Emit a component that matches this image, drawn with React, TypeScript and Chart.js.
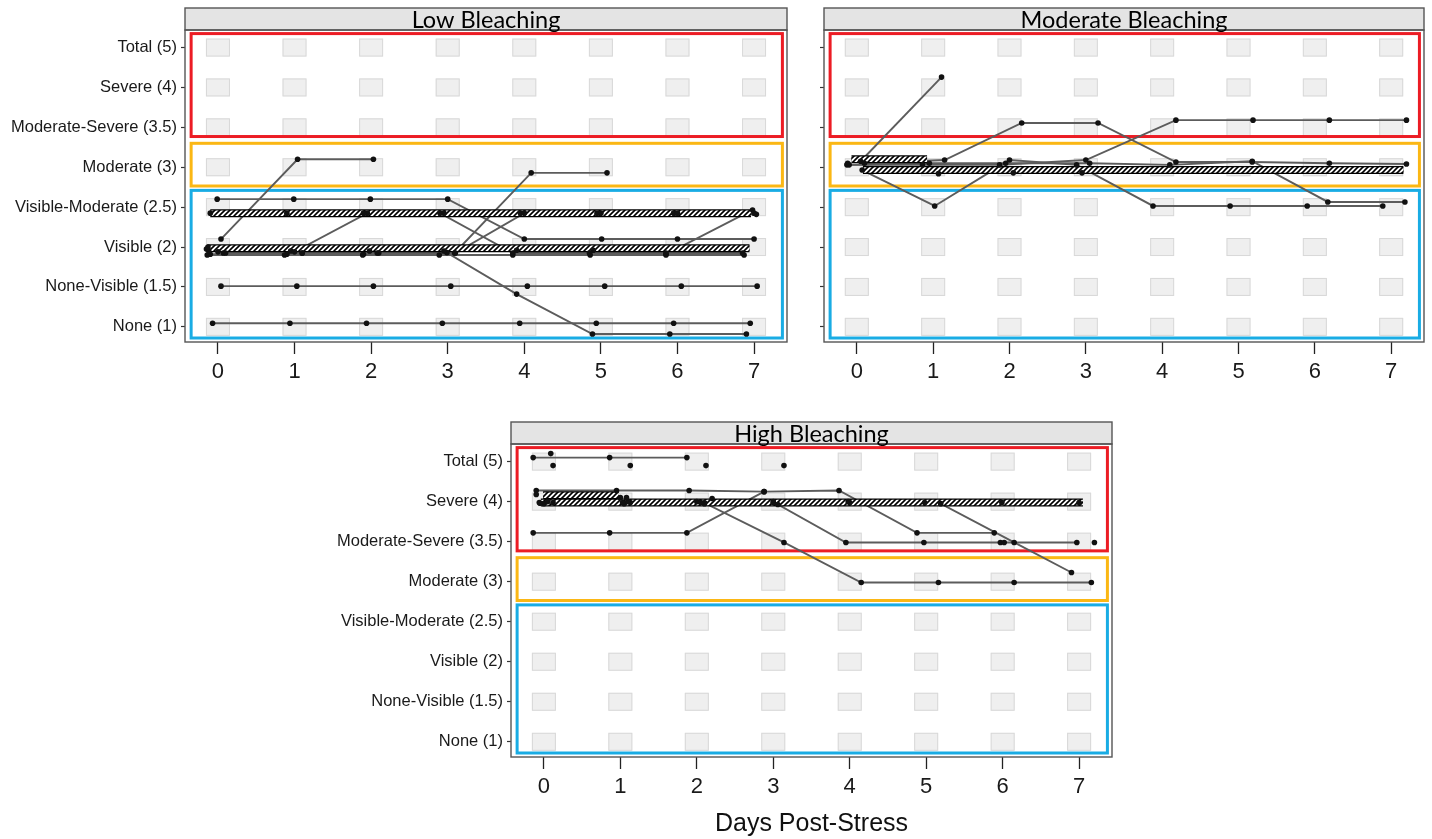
import React, { useEffect, useRef } from 'react';
import { Chart, registerables } from 'chart.js';
Chart.register(...registerables);

// ---------- data ----------
const dayTicks = [0, 1, 2, 3, 4, 5, 6, 7];
const scoreLevels = [1, 2, 3, 4, 5, 6, 7, 8];
const scoreLabels = [
  'None (1)',
  'None-Visible (1.5)',
  'Visible (2)',
  'Visible-Moderate (2.5)',
  'Moderate (3)',
  'Moderate-Severe (3.5)',
  'Severe (4)',
  'Total (5)',
];
const panelTitles = ['Low Bleaching', 'Moderate Bleaching', 'High Bleaching'];
const xAxisTitle = 'Days Post-Stress';

// severity groups (score ranges boxed): severe group, moderate, low
const zoneRanges = [
  [5.77, 8.35],
  [4.53, 5.6],
  [0.72, 4.42],
];
const zoneDays = [-0.35, 7.37];

// each coral: [day (jittered), score level (jittered)]
const lowCorals = [
  [[-0.07, 1.09], [0.94, 1.09], [1.94, 1.09], [2.93, 1.09], [3.94, 1.09], [4.94, 1.09], [5.95, 1.09], [6.95, 1.09]],
  [[0.04, 2.02], [1.03, 2.02], [2.03, 2.02], [3.04, 2.02], [4.04, 2.02], [5.05, 2.02], [6.05, 2.02], [7.04, 2.02]],
  [[-0.01, 4.2], [0.99, 4.2], [1.99, 4.2], [3.0, 4.2], [4.0, 3.2], [5.01, 3.2], [6.0, 3.2], [7.0, 3.2]],
  [[0.04, 3.2], [1.04, 5.2], [2.03, 5.2]],
  [[0.07, 2.85], [1.1, 2.85], [2.08, 2.85], [3.09, 2.85], [4.09, 4.86], [5.08, 4.86]],
  [[-0.1, 2.82], [0.9, 2.82], [1.9, 2.82], [2.99, 2.86], [3.9, 1.82], [4.89, 0.82], [5.9, 0.82], [6.9, 0.82]],
  [[-0.14, 2.8], [0.87, 2.8], [1.89, 2.8], [2.89, 2.8], [3.85, 2.8], [4.86, 2.8], [5.85, 2.8], [6.87, 2.8]],
  [[-0.12, 2.9], [0.95, 2.9], [1.98, 2.9], [2.95, 2.9], [3.9, 2.92], [4.9, 2.92], [5.85, 2.82], [6.98, 3.93]],
  [[0.0, 2.88], [1.0, 2.88], [1.95, 3.85], [2.95, 3.85], [3.95, 3.85], [4.95, 3.85], [5.95, 3.85], [7.03, 3.82]],
  [[-0.1, 3.85], [0.9, 3.85], [1.9, 3.85], [2.9, 3.85], [3.85, 2.85], [4.85, 2.85], [5.85, 2.85], [6.85, 2.85]],
  [[0.1, 2.85], [1.1, 2.85], [2.1, 2.85], [3.1, 2.85], [4.0, 3.85], [5.0, 3.85], [6.0, 3.85], [7.0, 3.85]],
];
// hatched bars: [start day, end day, score level]
const lowHatch = [
  [-0.1, 6.96, 3.85],
  [-0.14, 6.94, 2.97],
];
const lowLoose = [[-0.15, 2.95], [-0.13, 3.0]];

const modCorals = [
  [[0.05, 5.15], [1.11, 7.26]],
  [[0.1, 5.1], [1.15, 5.18], [2.16, 6.11], [3.16, 6.11], [4.18, 5.13], [5.18, 5.13], [6.19, 5.1], [7.2, 5.08]],
  [[-0.13, 5.06], [0.86, 5.06], [1.87, 5.06], [3.0, 5.18], [4.18, 6.18], [5.19, 6.18], [6.19, 6.18], [7.2, 6.18]],
  [[0.07, 4.93], [1.02, 4.03], [2.0, 5.18], [2.88, 5.06], [3.88, 4.03], [4.89, 4.03], [5.9, 4.03], [6.89, 4.03]],
  [[-0.1, 5.06], [0.95, 5.1], [1.95, 5.1], [3.05, 5.1], [4.1, 5.06], [5.18, 5.15], [6.17, 4.13], [7.18, 4.13]],
];
const modHatch = [
  [-0.07, 0.92, 5.2],
  [0.08, 7.16, 4.93],
];
const modLoose = [[-0.12, 5.1], [1.07, 4.84], [2.05, 4.86], [2.95, 4.86]];

const highCorals = [
  [[-0.14, 8.1], [0.86, 8.1], [1.87, 8.1]],
  [[-0.1, 7.28], [0.95, 7.28], [1.9, 7.28], [2.88, 7.25], [3.86, 7.28], [4.88, 6.22], [5.89, 6.22]],
  [[-0.14, 6.22], [0.86, 6.22], [1.87, 6.22], [2.88, 7.25]],
  [[0.0, 6.95], [1.05, 6.95], [2.1, 6.95], [3.06, 6.93], [3.95, 5.98], [4.97, 5.98], [5.97, 5.98], [6.97, 5.98]],
  [[0.12, 6.98], [1.13, 6.98], [2.1, 6.97], [3.14, 5.98], [4.15, 4.98], [5.16, 4.98], [6.15, 4.98], [7.16, 4.98]],
  [[0.05, 7.0], [1.1, 7.0], [2.0, 7.0], [3.0, 7.0], [3.98, 7.0], [5.19, 6.95], [6.15, 5.98], [6.9, 5.23]],
  [[-0.06, 6.98], [1.03, 6.98], [2.05, 6.98], [3.0, 6.98], [4.0, 6.98], [4.98, 6.98], [5.99, 6.98], [7.0, 6.98]],
];
const highHatch = [
  [-0.01, 0.98, 7.16],
  [-0.04, 7.05, 6.98],
];
const highLoose = [
  [0.09, 8.2], [0.12, 7.9], [1.13, 7.9], [2.12, 7.9], [3.14, 7.9],
  [-0.1, 7.18], [-0.05, 6.96], [1.0, 7.1], [1.08, 7.1], [2.2, 7.08], [7.2, 5.98], [6.02, 5.98],
];

// ---------- styles / geometry ----------
const DAY_MIN = -0.43;
const DAY_MAX = 7.43;
const SCORE_MIN = 0.62;
const SCORE_MAX = 8.44;
const ZONE_COLORS = ['#ec1c24', '#fbb714', '#19ace4'];
const SANS = "'Liberation Sans', Arial, Helvetica, sans-serif";

const GEOMS = [
  { left: 0, top: 0, w: 800, h: 395, l: 185, r: 787, t: 30, b: 342 },
  { left: 800, top: 0, w: 632, h: 395, l: 824, r: 1424, t: 30, b: 342 },
  { left: 300, top: 410, w: 820, h: 400, l: 511, r: 1112, t: 444, b: 757 },
];

const bgPlugin = {
  id: 'panelBg',
  beforeDatasetsDraw(chart: any) {
    const { ctx, scales } = chart;
    const x = scales.x;
    const y = scales.y;
    ctx.save();
    ctx.lineWidth = 1;
    for (const d of dayTicks) {
      for (const s of scoreLevels) {
        const px = x.getPixelForValue(d);
        const py = y.getPixelForValue(s);
        ctx.fillStyle = '#efefef';
        ctx.fillRect(px - 12, py - 9, 24, 18);
        ctx.strokeStyle = '#d8d8d8';
        ctx.strokeRect(px - 12 + 0.5, py - 9 + 0.5, 23, 17);
      }
    }
    ctx.lineWidth = 3;
    zoneRanges.forEach((rg, i) => {
      const x0 = x.getPixelForValue(zoneDays[0]);
      const x1 = x.getPixelForValue(zoneDays[1]);
      const y0 = y.getPixelForValue(rg[1]);
      const y1 = y.getPixelForValue(rg[0]);
      ctx.strokeStyle = ZONE_COLORS[i];
      ctx.strokeRect(x0, y0, x1 - x0, y1 - y0);
    });
    ctx.restore();
  },
};

const framePlugin = {
  id: 'panelFrame',
  afterDraw(chart: any, _args: any, opts: any) {
    const { ctx, chartArea } = chart;
    const { left, right, top, bottom } = chartArea;
    ctx.save();
    ctx.fillStyle = '#e4e4e4';
    ctx.fillRect(left, top - 22, right - left, 22);
    ctx.strokeStyle = '#555';
    ctx.lineWidth = 1.4;
    ctx.strokeRect(left, top - 22, right - left, 22);
    ctx.strokeRect(left, top, right - left, bottom - top);
    ctx.fillStyle = '#000';
    ctx.font = "23.5px Lato, 'Open Sans', sans-serif";
    ctx.textAlign = 'center';
    ctx.textBaseline = 'alphabetic';
    ctx.fillText(opts.title || '', (left + right) / 2, top - 2);
    ctx.restore();
  },
};

function makeHatch(ctx: CanvasRenderingContext2D): any {
  const c = document.createElement('canvas');
  c.width = 5;
  c.height = 5;
  const g = c.getContext('2d')!;
  g.fillStyle = '#fff';
  g.fillRect(0, 0, 5, 5);
  g.strokeStyle = '#000';
  g.lineWidth = 1.6;
  g.beginPath();
  g.moveTo(-1, 6);
  g.lineTo(6, -1);
  g.moveTo(-1, 1);
  g.lineTo(1, -1);
  g.moveTo(4, 6);
  g.lineTo(6, 4);
  g.stroke();
  return ctx.createPattern(c, 'repeat');
}

function buildConfig(
  corals: number[][][],
  hatch: number[][],
  loose: number[][],
  title: string,
  showLabels: boolean,
  geom: any,
  pattern: any
): any {
  const toPts = (arr: number[][]) => arr.map(([x, y]) => ({ x, y }));
  const lines = corals.map((c) => ({
    data: toPts(c),
    showLine: true,
    borderColor: '#5c5c5c',
    borderWidth: 1.9,
    pointRadius: 0,
    order: 3,
  }));
  const hatchOuter = hatch.map(([a, b, y]) => ({
    data: [{ x: a, y }, { x: b, y }],
    showLine: true,
    borderColor: '#000',
    borderWidth: 8,
    borderCapStyle: 'butt',
    pointRadius: 0,
    order: 2,
  }));
  const hatchInner = hatch.map(([a, b, y]) => ({
    data: [{ x: a, y }, { x: b, y }],
    showLine: true,
    borderColor: pattern,
    borderWidth: 5.5,
    borderCapStyle: 'butt',
    pointRadius: 0,
    order: 1,
  }));
  const points = {
    data: toPts([...corals.flat(), ...loose]),
    showLine: false,
    pointRadius: 2.8,
    pointBackgroundColor: '#111',
    pointBorderWidth: 0,
    order: 0,
  };
  return {
    type: 'scatter',
    data: { datasets: [points, ...hatchInner, ...hatchOuter, ...lines] },
    plugins: [bgPlugin, framePlugin],
    options: {
      animation: false,
      responsive: false,
      devicePixelRatio: 1,
      events: [],
      layout: {
        padding: {
          top: geom.t - geom.top,
          right: geom.left + geom.w - geom.r,
          left: 0,
          bottom: 0,
        },
      },
      plugins: {
        legend: { display: false },
        tooltip: { enabled: false },
        title: { display: false },
        panelFrame: { title },
      },
      scales: {
        x: {
          type: 'linear',
          min: DAY_MIN,
          max: DAY_MAX,
          afterBuildTicks: (s: any) => {
            s.ticks = dayTicks.map((v) => ({ value: v }));
          },
          afterFit: (s: any) => {
            s.height = geom.top + geom.h - geom.b;
          },
          border: { display: false },
          grid: {
            display: true,
            drawOnChartArea: false,
            drawTicks: true,
            tickLength: 12,
            tickColor: '#222',
            tickWidth: 1.3,
          },
          ticks: {
            autoSkip: false,
            maxRotation: 0,
            padding: 5,
            color: '#1a1a1a',
            font: { family: SANS, size: 22 },
            callback: (v: any) => String(v),
          },
        },
        y: {
          type: 'linear',
          min: SCORE_MIN,
          max: SCORE_MAX,
          afterBuildTicks: (s: any) => {
            s.ticks = scoreLevels.map((v) => ({ value: v }));
          },
          afterFit: (s: any) => {
            s.width = geom.l - geom.left;
          },
          border: { display: false },
          grid: {
            display: true,
            drawOnChartArea: false,
            drawTicks: true,
            tickLength: 4,
            tickColor: '#333',
            tickWidth: 1.2,
          },
          ticks: {
            autoSkip: false,
            padding: 4,
            color: '#1a1a1a',
            font: { family: SANS, size: 16.5 },
            callback: (_v: any, i: number) => (showLabels ? scoreLabels[i] : ''),
          },
        },
      },
    },
  };
}

export default function App() {
  const r0 = useRef<HTMLCanvasElement>(null);
  const r1 = useRef<HTMLCanvasElement>(null);
  const r2 = useRef<HTMLCanvasElement>(null);
  const refs = [r0, r1, r2];

  useEffect(() => {
    const specs = [
      { corals: lowCorals, hatch: lowHatch, loose: lowLoose, labels: true },
      { corals: modCorals, hatch: modHatch, loose: modLoose, labels: false },
      { corals: highCorals, hatch: highHatch, loose: highLoose, labels: true },
    ];
    const charts = specs.map((s, i) => {
      const canvas = refs[i].current!;
      const ctx = canvas.getContext('2d')!;
      const pattern = makeHatch(ctx);
      return new Chart(
        canvas,
        buildConfig(s.corals, s.hatch, s.loose, panelTitles[i], s.labels, GEOMS[i], pattern)
      );
    });
    return () => charts.forEach((c) => c.destroy());
  }, []);

  return (
    <div style={{ position: 'absolute', left: 0, top: 0, width: 1432, height: 839, background: '#fff' }}>
      {GEOMS.map((g, i) => (
        <canvas
          key={i}
          ref={refs[i]}
          width={g.w}
          height={g.h}
          style={{ position: 'absolute', left: g.left, top: g.top, width: g.w, height: g.h, display: 'block' }}
        />
      ))}
      <div
        style={{
          position: 'absolute',
          left: 511,
          top: 807,
          width: 601,
          textAlign: 'center',
          fontFamily: SANS,
          fontSize: 25,
          lineHeight: '30px',
          color: '#111',
        }}
      >
        {xAxisTitle}
      </div>
    </div>
  );
}
